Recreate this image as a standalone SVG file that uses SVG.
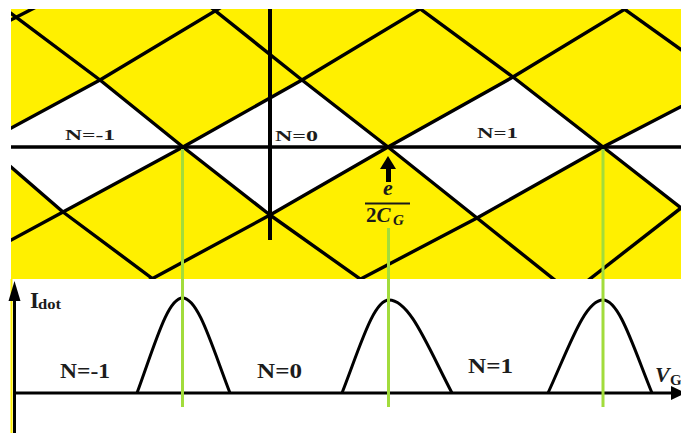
<svg xmlns="http://www.w3.org/2000/svg" width="681" height="433" viewBox="0 0 681 433">
<style>
.ln{fill:none;stroke:#000;stroke-width:3.4;stroke-linejoin:round;stroke-linecap:butt}
.wh{fill:#fff;stroke:none}
.gr{stroke:#a2dc3c;stroke-width:3;fill:none}
.lbl{font-family:"Liberation Serif","Times New Roman",serif;font-weight:bold;fill:#1c1c1c}
.math{font-family:"Liberation Serif","Times New Roman",serif;font-weight:bold;fill:#1a1a1a}
.pk{fill:none;stroke:#000;stroke-width:3;stroke-linejoin:round}
</style>
<defs>
<clipPath id="yc"><rect x="11" y="9" width="670" height="270"/></clipPath>
</defs>
<rect x="0" y="0" width="681" height="433" fill="#fff"/>

<g id="stability-diagram">
<rect x="11" y="9" width="670" height="270" fill="#fff000"/>
<g id="white-regions" clip-path="url(#yc)">
<polygon class="wh" points="11,128 100,80 183,147 63,212 11,167"/>
<polygon class="wh" points="183,147 302,80 388,147 270,215"/>
<polygon class="wh" points="388,147 513,77 603,147 477,218"/>
<polygon class="wh" points="603,147 681,106.7 681,208"/>
</g>
<g id="diamond-lines" clip-path="url(#yc)">
<polyline class="ln" points="0,157.5 63,212 153,279 156,281.5"/>
<polyline class="ln" points="0,5 100,80 183,147 270,215 363,281"/>
<polyline class="ln" points="208,5 302,80 388,147 477,218 556,281"/>
<polyline class="ln" points="415,5 513,77 603,147 681,208 690,215"/>
<polyline class="ln" points="620,6 690,56"/>
<polyline class="ln" points="5,23 40,5"/>
<polyline class="ln" points="0,134 100,80 225,5"/>
<polyline class="ln" points="0,246 63,212 183,147 302,80 425,6"/>
<polyline class="ln" points="148,281 270,215 388,147 513,77 630,6"/>
<polyline class="ln" points="355,282 477,218 603,147 690,102"/>
<polyline class="ln" points="586,282 690,201"/>
<line class="ln" x1="11" y1="147" x2="681" y2="147"/>
<line x1="270" y1="9" x2="270" y2="240" stroke="#000" stroke-width="4"/>
</g>
<g id="top-labels">
<text class="lbl" x="65" y="140" font-size="14" textLength="50" lengthAdjust="spacingAndGlyphs">N=-1</text>
<text class="lbl" x="275" y="141" font-size="14" textLength="43" lengthAdjust="spacingAndGlyphs">N=0</text>
<text class="lbl" x="477" y="138" font-size="14" textLength="41" lengthAdjust="spacingAndGlyphs">N=1</text>
</g>
<g id="charge-step-label">
<polygon points="388,156 396,169 380,169" fill="#000"/>
<rect x="386" y="168" width="5" height="14" fill="#000"/>
<text class="math" x="388" y="195" font-size="22" font-style="italic" text-anchor="middle">e</text>
<line x1="365" y1="203.5" x2="410" y2="203.5" stroke="#1a1a1a" stroke-width="2"/>
<text class="math" x="366" y="222" font-size="21">2<tspan font-style="italic">C</tspan></text>
<text class="math" x="393" y="225" font-size="15" font-style="italic">G</text>
</g>
</g>

<g id="current-plot">
<line x1="11.5" y1="279" x2="11.5" y2="433" stroke="#fff000" stroke-width="2"/>
<g id="axes">
<line x1="14.5" y1="296" x2="14.5" y2="433" stroke="#000" stroke-width="3"/>
<polygon points="14.5,281 20.5,301 8.5,301" fill="#000"/>
<line x1="14" y1="393" x2="672" y2="393" stroke="#000" stroke-width="3"/>
<polygon points="671,386 686,393 671,400" fill="#000"/>
</g>
<g id="peaks">
<path class="pk" d="M137,393 C154.7,345 167.5,298 182.5,298 C198.2,298 211.5,345 230,393"/>
<path class="pk" d="M342,393 C360.3,346 373.5,300 389,300 C409.8,300 427.4,346 452,393"/>
<path class="pk" d="M548,393 C569.5,346 584.9,300 603,300 C619.2,300 632.9,346 652,393"/>
</g>
<g id="plot-labels">
<text class="lbl" x="30" y="308" font-size="23">I</text>
<text class="lbl" x="38" y="309" font-size="14" textLength="23" lengthAdjust="spacingAndGlyphs">dot</text>
<text class="lbl" x="60" y="378" font-size="22" textLength="50" lengthAdjust="spacingAndGlyphs">N=-1</text>
<text class="lbl" x="257" y="378" font-size="22" textLength="45" lengthAdjust="spacingAndGlyphs">N=0</text>
<text class="lbl" x="468" y="373" font-size="22" textLength="45" lengthAdjust="spacingAndGlyphs">N=1</text>
<text class="lbl" x="655" y="382" font-size="22" font-style="italic" font-weight="normal">V</text>
<text class="lbl" x="670" y="385" font-size="15">G</text>
</g>
</g>

<g id="connectors">
<line class="gr" x1="182.5" y1="149" x2="182.5" y2="407"/>
<line class="gr" x1="388.5" y1="228" x2="388.5" y2="407"/>
<line class="gr" x1="603" y1="149" x2="603" y2="407"/>
</g>
</svg>
